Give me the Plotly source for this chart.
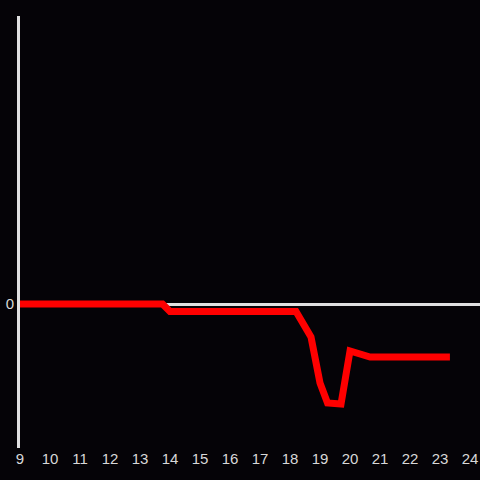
import plotly.graph_objects as go

hours = [9, 13.75, 14.0, 18.2, 18.7, 19.0, 19.25, 19.7, 20.0, 20.33, 20.67, 23.33]
values = [0, 0, -7.5, -7.5, -33, -79, -99, -100, -47, -50, -53, -53]
x_ticks = list(range(9, 25))

fig = go.Figure()
fig.add_trace(go.Scatter(x=hours, y=values, mode="lines",
                         line=dict(color="#ff0000", width=7), showlegend=False))

fig.update_layout(
    width=480, height=480,
    paper_bgcolor="#050307", plot_bgcolor="#050307",
    margin=dict(l=20, r=0, t=16, b=32, autoexpand=False),
    font=dict(family="Liberation Sans, Arial, sans-serif", size=15, color="#d8d8d8"),
    xaxis=dict(range=[9, 24.333], tickvals=x_ticks, ticktext=[str(t) for t in x_ticks],
               showgrid=False, zeroline=False, showline=False, ticks="", automargin=False),
    yaxis=dict(range=[-144, 288], tickvals=[0], ticktext=["0"], showgrid=False,
               zeroline=True, zerolinecolor="#e0e0e0", zerolinewidth=3,
               showline=True, linecolor="#e0e0e0", linewidth=3, ticks="", automargin=False),
)

fig.write_html("out.html", config={"displayModeBar": False},
               post_script="document.body.style.margin='0';document.body.style.background='#050307';")
